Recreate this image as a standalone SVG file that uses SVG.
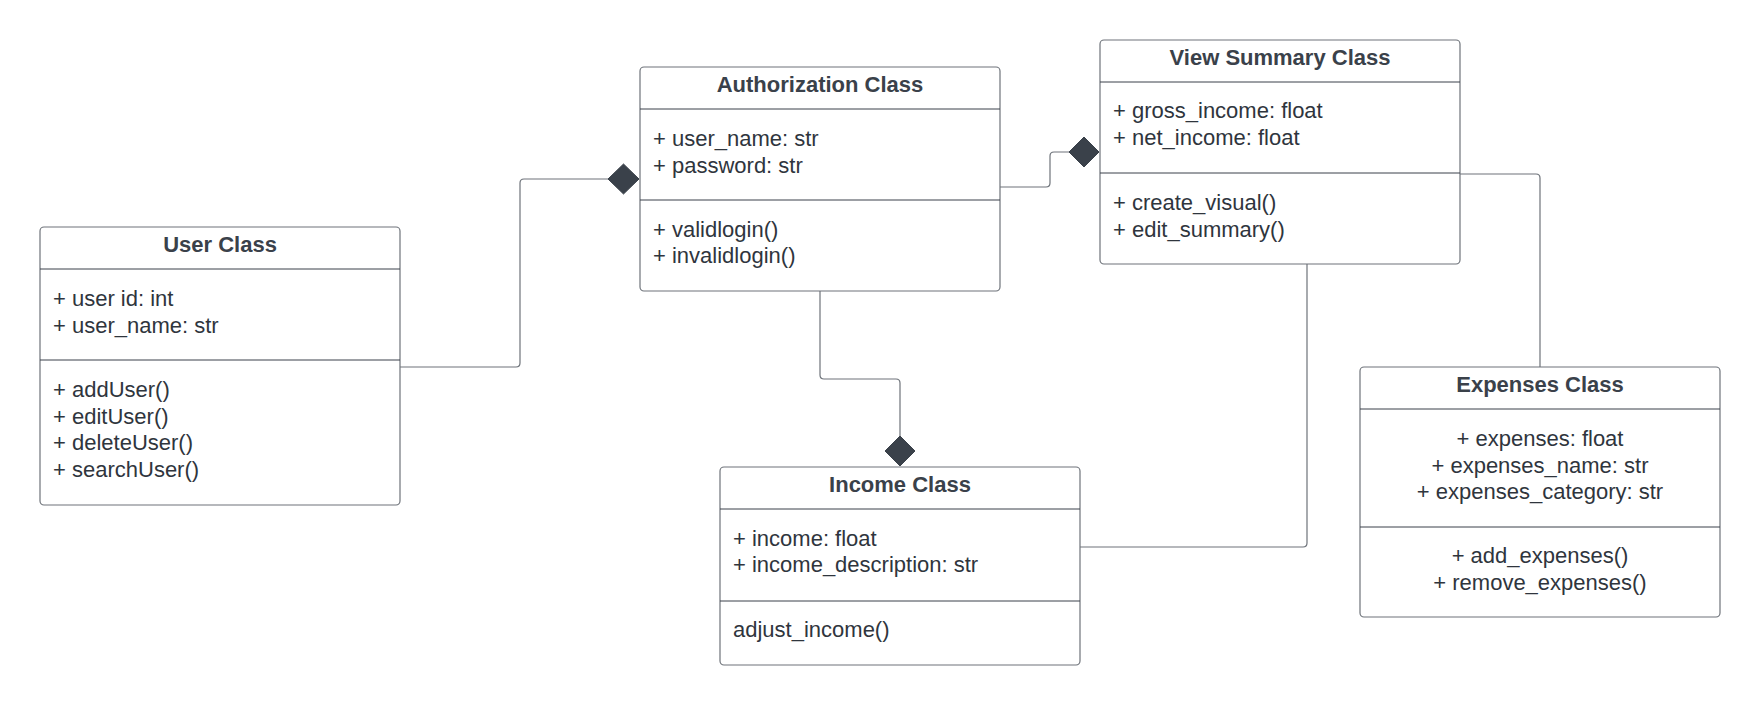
<svg xmlns="http://www.w3.org/2000/svg" width="1760" height="705" viewBox="0 0 1760 705">
<style>
.box{fill:#ffffff;stroke:#6e737a;stroke-width:1.2}
.div{stroke:#3a414a;stroke-width:1}
.t{font-family:"Liberation Sans",Arial,sans-serif;font-size:22px;fill:#2f353d}
.h{font-family:"Liberation Sans",Arial,sans-serif;font-size:22px;font-weight:bold;fill:#3a414a;text-anchor:middle}
.c{text-anchor:middle}
.con{fill:none;stroke:#6e737a;stroke-width:1.2}
.dia{fill:#3a414a;stroke:#3a414a;stroke-width:1}
</style>
<rect width="1760" height="705" fill="#ffffff"/>
<g id="connectors">
<path class="con" d="M400,367 H516 Q520,367 520,363 V183 Q520,179 524,179 H609"/>
<polygon class="dia" points="608,179 623.5,164 639,179 623.5,194"/>
<path class="con" d="M1000,187 H1046 Q1050,187 1050,183 V156 Q1050,152 1054,152 H1069"/>
<polygon class="dia" points="1069,152 1084,137 1099,152 1084,167"/>
<path class="con" d="M820,291 V375 Q820,379 824,379 H896 Q900,379 900,383 V436"/>
<polygon class="dia" points="900,436 915,451 900,466 885,451"/>
<path class="con" d="M1080,547 H1303 Q1307,547 1307,543 V264"/>
<path class="con" d="M1460,174 H1536 Q1540,174 1540,178 V367"/>
</g>
<g id="user-class">
<rect class="box" x="40" y="227" width="360" height="278" rx="4"/>
<line class="div" x1="40" y1="269" x2="400" y2="269"/>
<line class="div" x1="40" y1="360" x2="400" y2="360"/>
<text class="h" x="220" y="252">User Class</text>
<text class="t" x="53" y="306">+ user id: int</text>
<text class="t" x="53" y="333">+ user_name: str</text>
<text class="t" x="53" y="397">+ addUser()</text>
<text class="t" x="53" y="423.5">+ editUser()</text>
<text class="t" x="53" y="450">+ deleteUser()</text>
<text class="t" x="53" y="477">+ searchUser()</text>
</g>
<g id="authorization-class">
<rect class="box" x="640" y="67" width="360" height="224" rx="4"/>
<line class="div" x1="640" y1="109" x2="1000" y2="109"/>
<line class="div" x1="640" y1="200" x2="1000" y2="200"/>
<text class="h" x="820" y="92">Authorization Class</text>
<text class="t" x="653" y="146">+ user_name: str</text>
<text class="t" x="653" y="173">+ password: str</text>
<text class="t" x="653" y="237">+ validlogin()</text>
<text class="t" x="653" y="263">+ invalidlogin()</text>
</g>
<g id="view-summary-class">
<rect class="box" x="1100" y="40" width="360" height="224" rx="4"/>
<line class="div" x1="1100" y1="82" x2="1460" y2="82"/>
<line class="div" x1="1100" y1="173" x2="1460" y2="173"/>
<text class="h" x="1280" y="65">View Summary Class</text>
<text class="t" x="1113" y="118">+ gross_income: float</text>
<text class="t" x="1113" y="145">+ net_income: float</text>
<text class="t" x="1113" y="210">+ create_visual()</text>
<text class="t" x="1113" y="237">+ edit_summary()</text>
</g>
<g id="income-class">
<rect class="box" x="720" y="467" width="360" height="198" rx="4"/>
<line class="div" x1="720" y1="509" x2="1080" y2="509"/>
<line class="div" x1="720" y1="601" x2="1080" y2="601"/>
<text class="h" x="900" y="492">Income Class</text>
<text class="t" x="733" y="546">+ income: float</text>
<text class="t" x="733" y="572">+ income_description: str</text>
<text class="t" x="733" y="637">adjust_income()</text>
</g>
<g id="expenses-class">
<rect class="box" x="1360" y="367" width="360" height="250" rx="4"/>
<line class="div" x1="1360" y1="409" x2="1720" y2="409"/>
<line class="div" x1="1360" y1="527" x2="1720" y2="527"/>
<text class="h" x="1540" y="392">Expenses Class</text>
<text class="t c" x="1540" y="446">+ expenses: float</text>
<text class="t c" x="1540" y="473">+ expenses_name: str</text>
<text class="t c" x="1540" y="499">+ expenses_category: str</text>
<text class="t c" x="1540" y="563">+ add_expenses()</text>
<text class="t c" x="1540" y="590">+ remove_expenses()</text>
</g>
</svg>
